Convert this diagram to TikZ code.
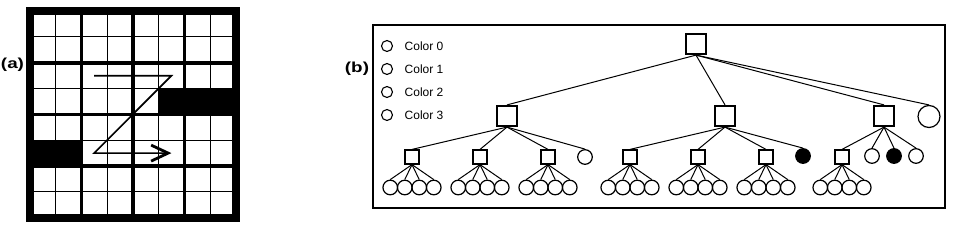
\documentclass[tikz,border=0pt]{standalone}
\usepackage{fontspec}
\setmainfont{Liberation Sans}
\usetikzlibrary{arrows.meta}
\tikzset{
  %% Panel (a): grid lines and the traversal path
  gridthin/.style={line width=1pt},
  gridthick/.style={line width=3.5pt},
  gridframe/.style={line width=8pt, line join=miter},
  zpath/.style={line width=1.7pt,
    -{Straight Barb[length=17pt, width=16pt, line width=2.8pt]}},
  %% Panel (b): tree nodes
  rootsq/.style={draw, line width=2.2pt, inner sep=0pt, minimum size=20pt},
  lowsq/.style={draw, line width=1.8pt, inner sep=0pt, minimum size=13.4pt},
  leafc/.style={draw, circle, line width=1.2pt, inner sep=0pt, minimum size=14.6pt},
  colc/.style={draw, circle, line width=1.2pt, inner sep=0pt, minimum size=14.6pt},
  bigc/.style={draw, circle, line width=1.2pt, inner sep=0pt, minimum size=22pt},
  legc/.style={draw, circle, line width=1.1pt, inner sep=0pt, minimum size=11pt},
  edge/.style={line width=1pt},
  boxframe/.style={line width=2.6pt},
  panel/.style={font=\bfseries\fontsize{14.5}{14.5}\selectfont, inner sep=0pt, xscale=1.3},
  legtext/.style={font=\fontsize{12}{12}\selectfont, inner sep=0pt, anchor=west},
}
\def\gx{29.8}
\def\gs{25.75}
\def\gy{11.2}
\def\gt{25.8}

\begin{document}
\begin{tikzpicture}[x=1pt, y=-1pt]
\useasboundingbox (0,0) rectangle (958,230);

%% (a) blocked grid
\node[panel] (la) at (12.5,65) {(a)};
\fill ({\gx+5*\gs},{\gy+3*\gt}) rectangle ({\gx+8*\gs},{\gy+4*\gt});
\fill ({\gx},{\gy+5*\gt}) rectangle ({\gx+2*\gs},{\gy+6*\gt});
\foreach \k in {1,3,5,7} {
  \draw[gridthin] ({\gx+\k*\gs},\gy) -- ({\gx+\k*\gs},{\gy+8*\gt});
  \draw[gridthin] (\gx,{\gy+\k*\gt}) -- ({\gx+8*\gs},{\gy+\k*\gt});
}
\foreach \k in {2,4,6} {
  \draw[gridthick] ({\gx+\k*\gs},\gy) -- ({\gx+\k*\gs},{\gy+8*\gt});
  \draw[gridthick] (\gx,{\gy+\k*\gt}) -- ({\gx+8*\gs},{\gy+\k*\gt});
}
\draw[gridframe] (\gx,\gy) rectangle ({\gx+8*\gs},{\gy+8*\gt});
\coordinate (z1) at ({\gx+2.5*\gs},{\gy+2.5*\gt});
\coordinate (z2) at ({\gx+5.5*\gs},{\gy+2.5*\gt});
\coordinate (z3) at ({\gx+2.5*\gs},{\gy+5.5*\gt});
\coordinate (z4) at ({\gx+5.5*\gs},{\gy+5.5*\gt});
\draw[zpath] (z1) -- (z2) -- (z3) -- (z4);

%% (b) tree with legend
\node[panel] (lb) at (357,69) {(b)};
\draw[boxframe] (373,25) rectangle (945,208);
\foreach \i in {0,...,3} {
  \node[legc] (leg\i) at (387,{46+23*\i}) {};
  \node[legtext] (legt\i) at (404.5,{46+23*\i}) {Color \i};
}

\node[rootsq] (r) at (696,44) {};
\node[rootsq] (m1) at (507,116) {};
\node[rootsq] (m2) at (725,116) {};
\node[rootsq] (m3) at (884,116) {};
\node[bigc] (c0) at (929,116.5) {};

\node[lowsq] (s1) at (412,157) {};
\node[lowsq] (s2) at (480,157) {};
\node[lowsq] (s3) at (548,157) {};
\node[colc] (c1) at (585,157) {};
\node[lowsq] (s4) at (630,157) {};
\node[lowsq] (s5) at (698,157) {};
\node[lowsq] (s6) at (766,157) {};
\node[colc, fill=black] (c2) at (803,156) {};
\node[lowsq] (s7) at (842,157) {};
\node[colc] (c3) at (872,156) {};
\node[colc, fill=black] (c4) at (894,156) {};
\node[colc] (c5) at (916,156) {};

\foreach \a/\b in {r/m1, r/m2, r/m3, r/c0,
                   m1/s1, m1/s2, m1/s3, m1/c1,
                   m2/s4, m2/s5, m2/s6, m2/c2,
                   m3/s7, m3/c3, m3/c4, m3/c5}
  \draw[edge] (\a.south) -- (\b.north);

\foreach \s/\x in {s1/412, s2/480, s3/548, s4/630, s5/698, s6/766, s7/842}
  \foreach \o [count=\j] in {-21.75,-7.25,7.25,21.75} {
    \node[leafc] (\s-\j) at ({\x+\o},187.5) {};
    \draw[edge] (\s.south) -- (\s-\j.north);
  }
\end{tikzpicture}
\end{document}
